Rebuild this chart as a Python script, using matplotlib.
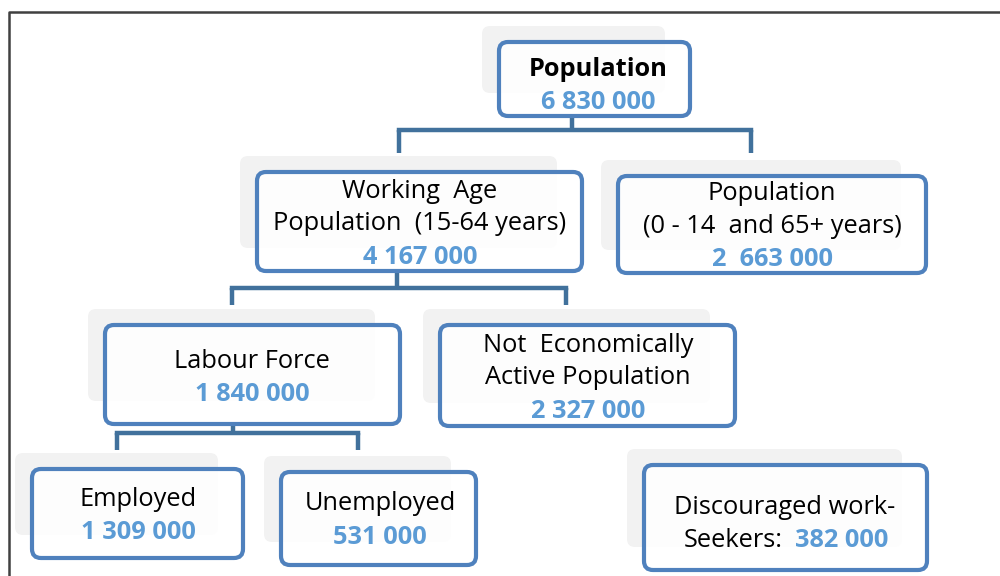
import matplotlib
matplotlib.use('Agg')
import matplotlib.pyplot as plt
from matplotlib.patches import FancyBboxPatch

plt.rcParams['font.family'] = ['Open Sans', 'DejaVu Sans']

# Data: labels and counts of each node
node_labels = ["Population",
               "Working  Age\nPopulation  (15-64 years)",
               "Population\n(0 - 14  and 65+ years)",
               "Labour Force",
               "Not  Economically\nActive Population",
               "Employed",
               "Unemployed",
               "Discouraged work-"]
node_values = ["6 830 000", "4 167 000", "2  663 000", "1 840 000",
               "2 327 000", "1 309 000", "531 000", "382 000"]

# layout (pixel coords): box x0, y0, x1, y1
boxes = [(499, 42, 690, 116),
         (257, 172, 582, 271),
         (618, 176, 926, 273),
         (105, 325, 400, 424),
         (440, 325, 735, 426),
         (32, 469, 243, 558),
         (281, 472, 476, 565),
         (644, 465, 927, 570)]
# text centre x, first line y
text_pos = [(598, 69), (420, 191), (772, 194), (252, 361),
            (588, 345), (138, 499), (380, 504), (785, 508)]

edge_col = '#4F81BD'
num_col = '#5B9BD5'
conn_col = '#41719C'
step = 32.5
fs = 18.3

fig = plt.figure(figsize=(10, 5.76), dpi=100)
ax = fig.add_axes([0, 0, 1, 1])
ax.set_xlim(0, 1000)
ax.set_ylim(576, 0)
ax.axis('off')

# outer frame
ax.plot([9, 9, 1005], [580, 12, 12], color='#404040', lw=1.8, solid_capstyle='butt')

# connectors
def connector(xp, y_top, y_mid, xs, y_bot):
    ax.plot([xp, xp], [y_top, y_mid], color=conn_col, lw=3.2, solid_capstyle='butt', zorder=1)
    ax.plot([min(xs), max(xs)], [y_mid, y_mid], color=conn_col, lw=3.2, solid_capstyle='projecting', zorder=1)
    for x in xs:
        ax.plot([x, x], [y_mid, y_bot], color=conn_col, lw=3.2, solid_capstyle='butt', zorder=1)

connector(572, 116, 130, [399, 751], 153)
connector(397, 271, 288, [232, 566], 305)
connector(233, 424, 433, [117, 358], 450)

for i, (x0, y0, x1, y1) in enumerate(boxes):
    # grey shadow card behind
    sh = FancyBboxPatch((x0 - 17, y0 - 16), (x1 - x0) - 8, (y1 - y0) - 7,
                        boxstyle='round,pad=0,rounding_size=8',
                        fc='#F2F2F2', ec='none', zorder=2)
    ax.add_patch(sh)
    b = FancyBboxPatch((x0, y0), x1 - x0, y1 - y0,
                       boxstyle='round,pad=0,rounding_size=9',
                       fc=(1, 1, 1, 0.85), ec=edge_col, lw=3.0, zorder=3)
    ax.add_patch(b)

    tx, ty = text_pos[i]
    lines = node_labels[i].split('\n')
    weight = 'bold' if i == 0 else 'normal'
    for k, line in enumerate(lines):
        ax.text(tx, ty + k * step, line, ha='center', va='center',
                fontsize=fs, color='black', fontweight=weight, zorder=4)
    if i < 7:
        ax.text(tx, ty + len(lines) * step + 1, node_values[i], ha='center', va='center',
                fontsize=fs, color=num_col, fontweight='bold', zorder=4)
    else:
        yy = ty + len(lines) * step
        ax.text(783, yy, "Seekers:", ha='right', va='center',
                fontsize=fs, color='black', zorder=4)
        ax.text(795, yy, node_values[i], ha='left', va='center',
                fontsize=fs, color=num_col, fontweight='bold', zorder=4)

fig.savefig('out.png', dpi=100)
